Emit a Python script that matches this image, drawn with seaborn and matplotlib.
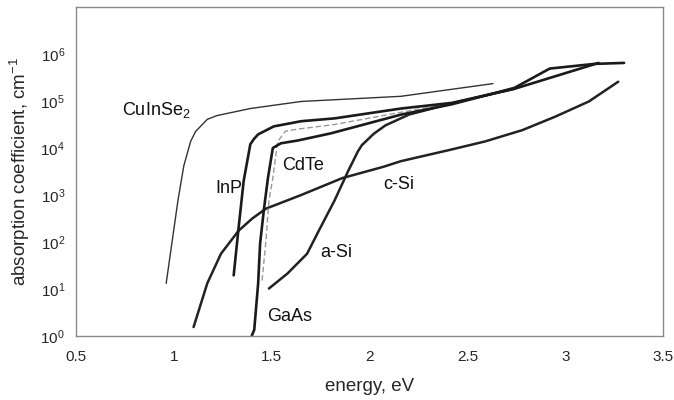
import numpy as np
import pandas as pd
import matplotlib
matplotlib.use("Agg")
import matplotlib.pyplot as plt
import seaborn as sns

# ---- data (energy in eV, log10 of absorption coefficient in cm^-1) ----
cuinse2_E = [0.96, 0.99, 1.02, 1.05, 1.085, 1.11, 1.17, 1.22, 1.39, 1.65, 2.16, 2.63]
cuinse2_log = [1.12, 2.0, 2.88, 3.62, 4.14, 4.35, 4.61, 4.69, 4.84, 4.99, 5.10, 5.37]

inp_E = [1.305, 1.33, 1.356, 1.39, 1.41, 1.43, 1.51, 1.65, 1.82, 2.16, 2.42, 2.74, 3.17]
inp_log = [1.29, 2.30, 3.30, 4.08, 4.20, 4.29, 4.46, 4.57, 4.63, 4.84, 4.96, 5.26, 5.81]

gaas_E = [1.397, 1.41, 1.43, 1.44, 1.46, 1.48, 1.505, 1.546, 1.633, 1.80, 2.16, 2.42, 2.74, 2.92, 3.15, 3.30]
gaas_log = [0.0, 0.13, 1.12, 1.97, 2.71, 3.36, 4.00, 4.10, 4.16, 4.31, 4.71, 4.93, 5.28, 5.69, 5.79, 5.81]

cdte_E = [1.45, 1.47, 1.485, 1.505, 1.53, 1.57, 1.63, 1.82, 2.16, 2.42, 2.6]
cdte_log = [1.18, 2.03, 2.88, 3.36, 4.14, 4.36, 4.40, 4.50, 4.76, 4.95, 5.12]

asi_E = [1.485, 1.58, 1.68, 1.74, 1.82, 1.89, 1.94, 1.96, 2.02, 2.08, 2.20, 2.42, 2.74]
asi_log = [1.01, 1.33, 1.75, 2.24, 2.88, 3.51, 3.93, 4.06, 4.30, 4.48, 4.71, 4.95, 5.26]

csi_E = [1.10, 1.17, 1.24, 1.33, 1.40, 1.47, 1.65, 1.86, 2.07, 2.16, 2.42, 2.59, 2.78, 2.95, 3.12, 3.27]
csi_log = [0.19, 1.12, 1.75, 2.24, 2.50, 2.71, 3.00, 3.36, 3.60, 3.72, 3.97, 4.14, 4.38, 4.67, 4.99, 5.41]

x_ticks = [0.5, 1, 1.5, 2, 2.5, 3, 3.5]
x_tick_labels = ["0.5", "1", "1.5", "2", "2.5", "3", "3.5"]
y_tick_exps = [0, 1, 2, 3, 4, 5, 6]

labels = ["CuInSe$_2$", "InP", "CdTe", "c-Si", "a-Si", "GaAs"]
label_E = [0.735, 1.28, 1.66, 2.15, 1.83, 1.59]
label_log = [4.80, 3.13, 3.62, 3.23, 1.78, 0.42]

# ---- style ----
sns.set_style("white")
plt.rcParams["font.family"] = ["Liberation Sans", "DejaVu Sans"]
plt.rcParams["mathtext.fontset"] = "custom"
plt.rcParams["mathtext.rm"] = "Liberation Sans"
plt.rcParams["mathtext.it"] = "Liberation Sans:italic"
plt.rcParams["mathtext.default"] = "regular"

fig = plt.figure(figsize=(6.74, 4.0), dpi=100)
ax = fig.add_axes([0.113, 0.16, 0.871, 0.8225])

curves = [
    ("CuInSe2", cuinse2_E, cuinse2_log, dict(color="#333333", lw=1.0)),
    ("c-Si", csi_E, csi_log, dict(color="#222222", lw=1.8)),
    ("a-Si", asi_E, asi_log, dict(color="#222222", lw=1.8)),
    ("CdTe", cdte_E, cdte_log, dict(color="#999999", lw=1.0, ls=(0, (4, 2)))),
    ("InP", inp_E, inp_log, dict(color="#1a1a1a", lw=1.9)),
    ("GaAs", gaas_E, gaas_log, dict(color="#1a1a1a", lw=1.9)),
]
for name, E, lg, st in curves:
    df = pd.DataFrame({"energy": E, "alpha": 10.0 ** np.array(lg)})
    sns.lineplot(data=df, x="energy", y="alpha", ax=ax, sort=False,
                 estimator=None, color=st["color"], linewidth=st["lw"],
                 linestyle=st.get("ls", "-"))

ax.set_yscale("log")
ax.set_xlim(0.5, 3.5)
ax.set_ylim(1, 1e7)
ax.set_xticks(x_ticks)
ax.set_xticklabels(x_tick_labels, fontsize=11)
ax.set_yticks([10.0 ** e for e in y_tick_exps])
ax.set_yticklabels(["$10^{%d}$" % e for e in y_tick_exps], fontsize=11)
ax.yaxis.set_minor_locator(matplotlib.ticker.NullLocator())
ax.tick_params(axis="x", which="major", direction="in", length=3,
               width=0.8, color="#888888", pad=10)
ax.tick_params(axis="y", which="major", direction="in", length=3,
               width=0.8, color="#888888", pad=8)

for s in ax.spines.values():
    s.set_color("#8a8a8a")
    s.set_linewidth(1.0)

ax.set_xlabel("energy, eV", fontsize=13.5, labelpad=10)
ax.set_ylabel("absorption coefficient, cm$^{-1}$", fontsize=13.5, labelpad=6)

for t, e, l in zip(labels, label_E, label_log):
    ha = "left" if t.startswith("Cu") else "center"
    ax.text(e, 10.0 ** l, t, fontsize=13, ha=ha, va="center", color="#111111")

fig.savefig("out.png", dpi=100)
